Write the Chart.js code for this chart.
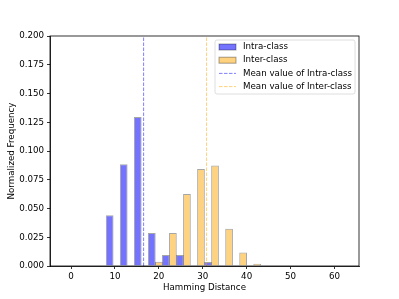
<!DOCTYPE html>
<html>
<head>
<meta charset="utf-8">
<script src="https://cdn.jsdelivr.net/npm/chart.js@4/dist/chart.umd.min.js"></script>
<style>
  body { margin: 0; background: #fff; }
  canvas { display: block; }
</style>
</head>
<body>
<canvas id="chart" width="399" height="299"></canvas>
<script>
// histogram bins (centers), width 3.2
var binCenters = [0, 3.2, 6.4, 9.6, 12.8, 16.0, 19.2, 22.4, 25.6, 28.8, 32.0, 35.2, 38.4, 41.6, 44.8, 48.0, 51.2, 54.4, 57.6, 60.8];
var intraFreq = [0, 0, 0, 0.0442, 0.0884, 0.1295, 0.0286, 0.0095, 0.0095, 0, 0.0035, 0, 0, 0, 0, 0, 0, 0, 0, 0];
var interFreq = [0, 0, 0, 0, 0, 0, 0.0038, 0.0286, 0.0627, 0.0844, 0.0873, 0.0324, 0.0118, 0.002, 0.0005, 0, 0, 0, 0, 0];
var intraMean = 16.53;
var interMean = 30.87;
var xTicks = [0, 10, 20, 30, 40, 50, 60];

var FONT = 'DejaVu Sans';
Chart.defaults.font.family = FONT;
Chart.defaults.font.size = 8.7;
Chart.defaults.color = '#000';

function toPoints(vals) {
    return binCenters.map(function(c, i) { return { x: c, y: vals[i] }; });
}
function vline(v) {
    return [{ x: v, y: 0 }, { x: v, y: 0.2 }];
}

// box frame (top/right spines) + matplotlib-style legend inside the axes
var framePlugin = {
    id: 'frameAndLegend',
    afterDraw: function(chart) {
        var ctx = chart.ctx, a = chart.chartArea;
        ctx.save();
        ctx.strokeStyle = '#000';
        ctx.lineWidth = 0.8;
        ctx.strokeRect(a.left, a.top, a.right - a.left, a.bottom - a.top);

        var w = 140, h = 54;
        var x = a.right - 4 - w, y = a.top + 4;
        ctx.beginPath();
        ctx.roundRect(x, y, w, h, 2);
        ctx.fillStyle = 'rgba(255,255,255,0.8)';
        ctx.fill();
        ctx.strokeStyle = '#d6d6d6';
        ctx.lineWidth = 0.8;
        ctx.stroke();

        ctx.font = '8.7px "' + FONT + '"';
        ctx.textBaseline = 'middle';
        chart.data.datasets.forEach(function(ds, i) {
            var cy = y + 7 + i * 13.2;
            if (ds.type === 'line') {
                ctx.setLineDash(ds.borderDash);
                ctx.strokeStyle = ds.borderColor;
                ctx.lineWidth = ds.borderWidth;
                ctx.beginPath();
                ctx.moveTo(x + 4, cy);
                ctx.lineTo(x + 21, cy);
                ctx.stroke();
                ctx.setLineDash([]);
            } else {
                ctx.fillStyle = ds.backgroundColor;
                ctx.fillRect(x + 4, cy - 3, 17, 6);
                ctx.strokeStyle = ds.borderColor;
                ctx.lineWidth = 1;
                ctx.strokeRect(x + 4, cy - 3, 17, 6);
            }
            ctx.fillStyle = '#000';
            ctx.fillText(ds.label, x + 28, cy);
        });
        ctx.restore();
    }
};

new Chart(document.getElementById('chart'), {
    type: 'bar',
    data: {
        datasets: [{
            label: 'Intra-class',
            data: toPoints(intraFreq),
            backgroundColor: 'rgba(0,0,255,0.55)',
            borderColor: 'rgba(0,0,0,0.35)',
            borderWidth: 1,
            categoryPercentage: 1,
            barPercentage: 1.1,
            order: 1
        }, {
            label: 'Inter-class',
            data: toPoints(interFreq),
            backgroundColor: 'rgba(255,165,0,0.5)',
            borderColor: 'rgba(0,0,0,0.35)',
            borderWidth: 1,
            categoryPercentage: 1,
            barPercentage: 1.1,
            order: 1
        }, {
            type: 'line',
            label: 'Mean value of Intra-class',
            data: vline(intraMean),
            borderColor: 'rgba(0,0,255,0.5)',
            borderWidth: 1,
            borderDash: [3.5, 1.5],
            pointRadius: 0,
            order: 0
        }, {
            type: 'line',
            label: 'Mean value of Inter-class',
            data: vline(interMean),
            borderColor: 'rgba(255,165,0,0.5)',
            borderWidth: 1,
            borderDash: [3.5, 1.5],
            pointRadius: 0,
            order: 0
        }]
    },
    options: {
        responsive: false,
        animation: false,
        layout: { padding: { top: 36, right: 40, left: 0, bottom: 0 } },
        plugins: { legend: { display: false }, tooltip: { enabled: false } },
        scales: {
            x: {
                type: 'linear',
                min: -4.8,
                max: 65.6,
                offset: false,
                grid: { offset: false, drawOnChartArea: false, drawTicks: true, tickLength: 3, tickColor: '#000', tickWidth: 0.8 },
                border: { color: '#000', width: 0.8 },
                afterBuildTicks: function(s) { s.ticks = xTicks.map(function(v) { return { value: v }; }); },
                afterFit: function(s) { s.height = 33; },
                ticks: { padding: 3, maxRotation: 0 },
                title: { display: true, text: 'Hamming Distance', padding: { top: 0, bottom: 6 } }
            },
            y: {
                min: 0,
                max: 0.2,
                grid: { drawOnChartArea: false, drawTicks: true, tickLength: 3, tickColor: '#000', tickWidth: 0.8 },
                border: { color: '#000', width: 0.8 },
                afterFit: function(s) { s.width = 50; },
                ticks: { stepSize: 0.025, padding: 3, callback: function(v) { return v.toFixed(3); } },
                title: { display: true, text: 'Normalized Frequency', padding: { top: 7, bottom: 0 } }
            }
        }
    },
    plugins: [framePlugin]
});
</script>
</body>
</html>
